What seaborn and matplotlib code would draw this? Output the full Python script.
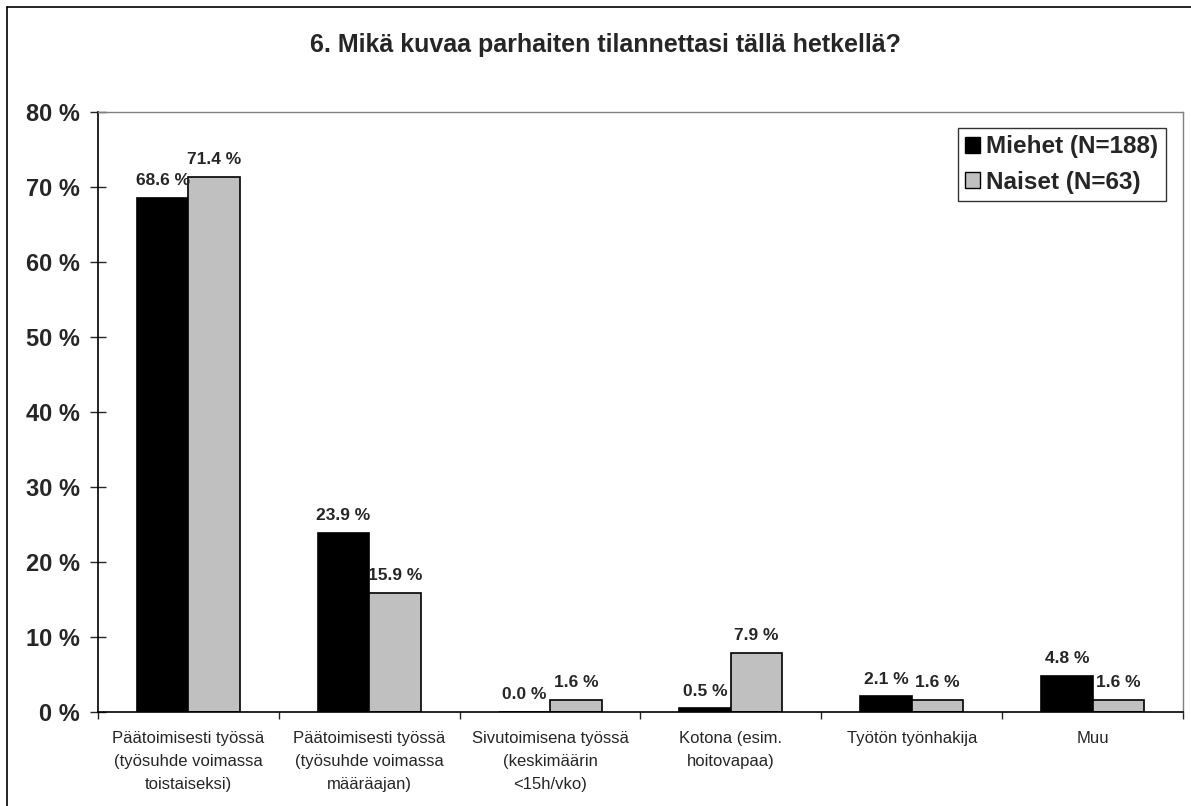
import numpy as np
import pandas as pd
import seaborn as sns
import matplotlib.pyplot as plt
from matplotlib.lines import Line2D
from matplotlib.patches import Patch
from matplotlib.ticker import FixedLocator, FuncFormatter

# chart data
categories = [
    "Päätoimisesti työssä\n(työsuhde voimassa\ntoistaiseksi)",
    "Päätoimisesti työssä\n(työsuhde voimassa\nmääräajan)",
    "Sivutoimisena työssä\n(keskimäärin\n<15h/vko)",
    "Kotona (esim.\nhoitovapaa)",
    "Työtön työnhakija",
    "Muu",
]
groups = ["Miehet (N=188)", "Naiset (N=63)"]
miehet = [68.6, 23.9, 0.0, 0.5, 2.1, 4.8]
naiset = [71.4, 15.9, 1.6, 7.9, 1.6, 1.6]
y_ticks = [0, 10, 20, 30, 40, 50, 60, 70, 80]
title = "6. Mikä kuvaa parhaiten tilannettasi tällä hetkellä?"

colors = ["#000000", "#C0C0C0"]

df = pd.DataFrame(
    {
        "category": categories * 2,
        "value": miehet + naiset,
        "group": [groups[0]] * len(categories) + [groups[1]] * len(categories),
    }
)

sns.set_style("white")
plt.rcParams["font.family"] = ["Liberation Sans", "DejaVu Sans"]

fig = plt.figure(figsize=(11.91, 8.06), dpi=100)
ax = fig.add_axes([98 / 1191, 1 - 712 / 806, 1085 / 1191, 600 / 806])

sns.barplot(
    data=df,
    x="category",
    y="value",
    hue="group",
    order=categories,
    hue_order=groups,
    palette=colors,
    width=0.57,
    edgecolor="black",
    linewidth=1.2,
    errorbar=None,
    legend=False,
    ax=ax,
)

# value labels
for cont in ax.containers:
    ax.bar_label(cont, fmt="{:.1f} %", padding=7, fontsize=12.5, fontweight="bold")

ax.set_xlim(-0.5, len(categories) - 0.5)
ax.set_ylim(0, 80)
ax.yaxis.set_major_locator(FixedLocator(y_ticks))
ax.yaxis.set_major_formatter(FuncFormatter(lambda v, p: f"{v:.0f} %"))
ax.tick_params(
    axis="y", direction="inout", length=12, width=1, pad=7, labelsize=17, left=True
)
for lab in ax.get_yticklabels():
    lab.set_fontweight("bold")

# x ticks: labels at centers, tick marks between categories
ax.tick_params(axis="x", which="major", length=0, pad=14, labelsize=12)
for lab in ax.get_xticklabels():
    lab.set_linespacing(1.65)
ax.set_xticks(np.arange(-0.5, len(categories)), minor=True)
ax.tick_params(axis="x", which="minor", direction="out", length=5, width=1, bottom=True)

ax.set_xlabel("")
ax.set_ylabel("")

for side in ["left", "bottom"]:
    ax.spines[side].set_color("black")
    ax.spines[side].set_linewidth(1.2)
for side in ["top", "right"]:
    ax.spines[side].set_color("#808080")
    ax.spines[side].set_linewidth(1.0)

handles = [Patch(facecolor=c, edgecolor="black", linewidth=1) for c in colors]
leg = ax.legend(
    handles,
    groups,
    loc="upper right",
    bbox_to_anchor=(0.984, 0.973),
    borderaxespad=0,
    frameon=True,
    fancybox=False,
    prop={"size": 17.5, "weight": "bold"},
    handlelength=0.62,
    handleheight=0.62,
    handletextpad=0.25,
    labelspacing=0.5,
    borderpad=0.3,
)
leg.get_frame().set_edgecolor("black")
leg.get_frame().set_linewidth(1.0)

fig.text(605 / 1191, 1 - 45 / 806, title, ha="center", va="center",
         fontsize=18, fontweight="bold")

# outer chart border (left and top edges visible)
fig.add_artist(Line2D([7 / 1191, 7 / 1191], [0, 1 - 7 / 806], color="black", lw=1.2))
fig.add_artist(Line2D([7 / 1191, 1], [1 - 7 / 806, 1 - 7 / 806], color="black", lw=1.2))

fig.savefig("out.png", dpi=100, facecolor="white")
